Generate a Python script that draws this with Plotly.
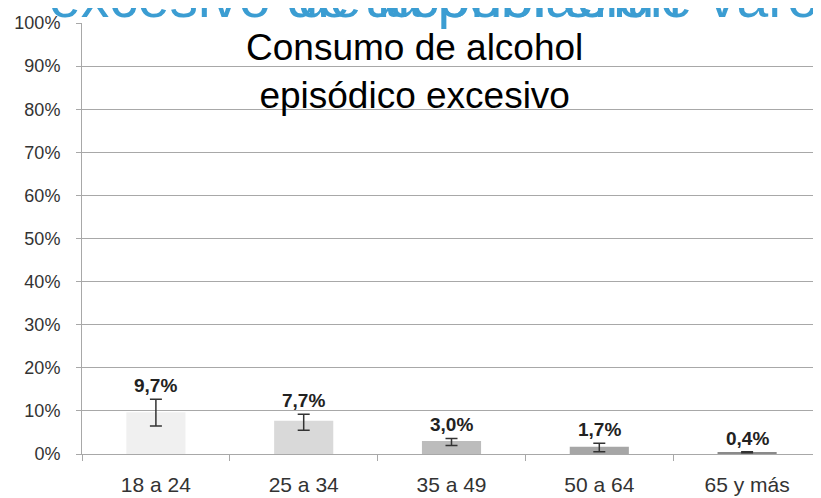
import plotly.graph_objects as go

categories = ["18 a 24", "25 a 34", "35 a 49", "50 a 64", "65 y más"]
values = [0.097, 0.077, 0.030, 0.017, 0.004]
err_plus = [0.030, 0.015, 0.006, 0.008, 0.001]
err_minus = [0.032, 0.022, 0.010, 0.012, 0.001]
value_labels = ["9,7%", "7,7%", "3,0%", "1,7%", "0,4%"]
bar_colors = ["#f0f0f0", "#d9d9d9", "#bcbcbc", "#a6a6a6", "#8a8a8a"]
y_ticks = [i / 10 for i in range(11)]
y_tick_labels = [f"{i * 10}%" for i in range(11)]

fig = go.Figure()
fig.add_trace(go.Bar(
    x=categories, y=values,
    marker=dict(color=bar_colors, line=dict(width=0)),
    error_y=dict(type="data", symmetric=False, array=err_plus, arrayminus=err_minus,
                 color="#333333", thickness=1.5, width=6),
    hoverinfo="skip",
))

for c, v, ep, lab in zip(categories, values, err_plus, value_labels):
    fig.add_annotation(x=c, y=v + ep, text="<b>" + lab + "</b>", showarrow=False, yanchor="bottom",
                       yshift=1, font=dict(family="Liberation Sans, Arial", size=19, color="#222222"))

# Title inside plot
fig.add_annotation(xref="paper", yref="paper", x=0.4497, y=1.0, yanchor="top", yshift=-2,
                   text="Consumo de alcohol<br>episódico excesivo", showarrow=False,
                   font=dict(family="Liberation Sans, Arial", size=37, color="#000000"))

# Overlapping blue header text (clipped at top)
blue = "#3b9dd2"
fig.add_annotation(xref="paper", yref="paper", x=-0.047, y=1.0, xanchor="left", yanchor="bottom",
                   yshift=-8, text="excesivo de alcohol entre varones", showarrow=False,
                   font=dict(family="Liberation Sans, Arial", size=57, color=blue))
fig.add_annotation(xref="paper", yref="paper", x=0.29, y=1.0, xanchor="left", yanchor="bottom",
                   yshift=-8, text="de la población", showarrow=False,
                   font=dict(family="Liberation Sans, Arial", size=57, color=blue))

fig.update_layout(
    width=813, height=490, autosize=False,
    margin=dict(l=74, r=0, t=15, b=44, autoexpand=False),
    paper_bgcolor="white", plot_bgcolor="white",
    bargap=0.6, showlegend=False,
    font=dict(family="Liberation Sans, Arial", color="#333333"),
)
fig.update_yaxes(range=[0, 1], tickvals=y_ticks, ticktext=y_tick_labels,
                 showgrid=True, gridcolor="#a8a8a8", gridwidth=1,
                 showline=True, linecolor="#a8a8a8", linewidth=1,
                 ticks="outside", ticklen=5, tickcolor="#a8a8a8",
                 tickfont=dict(size=18, color="#333333"), ticklabelstandoff=12,
                 zeroline=False, automargin=False)
fig.update_xaxes(showline=True, linecolor="#a8a8a8", linewidth=1,
                 ticks="outside", tickson="boundaries", ticklen=6, tickcolor="#a8a8a8",
                 tickfont=dict(size=21, color="#333333"), ticklabelstandoff=12,
                 showgrid=False, automargin=False)

fig.write_html("out.html")
